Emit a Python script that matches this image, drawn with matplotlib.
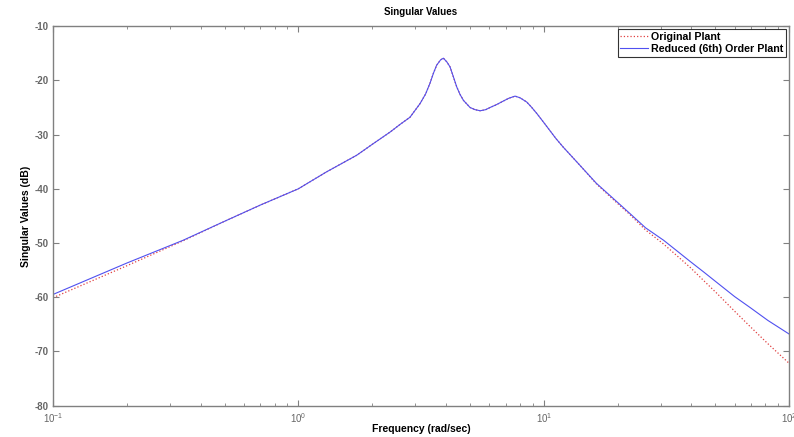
import numpy as np
import matplotlib
matplotlib.use("Agg")
import matplotlib.pyplot as plt
from matplotlib.ticker import LogLocator, NullFormatter

# values (rad/sec, dB)
freq = [0.1, 0.2, 0.339, 0.5, 0.7, 1.0, 1.116, 1.3, 1.73, 2.0, 2.37, 2.6,
        2.85, 3.13, 3.3, 3.44, 3.55, 3.66, 3.8, 3.9, 4.03, 4.15, 4.28, 4.42,
        4.56, 4.71, 5.01, 5.25, 5.51, 5.8, 6.04, 6.4, 6.85, 7.2, 7.64, 8.0,
        8.53, 8.9, 9.37, 9.9, 10.45, 11.2, 12.0, 14.0, 16.4, 19.0, 22.5,
        26.0, 30.8, 35.0, 39.5, 45.0, 50.8, 60.0, 69.3, 82.0, 100]
sv_reduced = [-59.5, -53.7, -49.5, -46.0, -43.0, -40.0, -38.7, -36.9, -33.8,
              -31.8, -29.5, -28.1, -26.8, -24.3, -22.5, -20.5, -18.7, -17.2,
              -16.2, -15.9, -16.6, -17.5, -19.3, -21.2, -22.6, -23.7, -25.0,
              -25.4, -25.6, -25.4, -25.0, -24.5, -23.8, -23.3, -22.9, -23.2,
              -24.0, -24.9, -26.1, -27.5, -28.9, -30.7, -32.3, -35.6, -39.0,
              -41.6, -44.6, -47.2, -49.5, -51.5, -53.4, -55.4, -57.3, -59.9,
              -61.9, -64.3, -66.8]
sv_orig = [-60.1, -54.2, -49.6, -46.0, -43.0, -40.0, -38.7, -36.9, -33.8,
           -31.8, -29.5, -28.1, -26.8, -24.3, -22.5, -20.5, -18.7, -17.2,
           -16.2, -15.9, -16.6, -17.5, -19.3, -21.2, -22.6, -23.7, -25.0,
           -25.4, -25.6, -25.4, -25.0, -24.5, -23.8, -23.3, -22.9, -23.2,
           -24.0, -24.9, -26.1, -27.5, -28.9, -30.7, -32.3, -35.6, -39.1,
           -41.8, -44.8, -47.6, -50.2, -52.4, -54.5, -57.0, -59.3, -62.6,
           -65.4, -68.6, -72.2]

yticks = [-80, -70, -60, -50, -40, -30, -20, -10]

plt.rcParams['font.family'] = ['Liberation Sans', 'DejaVu Sans']
plt.rcParams['axes.unicode_minus'] = False
plt.rcParams['mathtext.fontset'] = 'custom'
plt.rcParams['mathtext.rm'] = 'Liberation Sans:bold'
plt.rcParams['mathtext.it'] = 'Liberation Sans:bold'

fig = plt.figure(figsize=(7.94, 4.37), dpi=100)
ax = fig.add_axes([0.0668, 0.072, 0.927, 0.868])

ax.semilogx(freq, sv_orig, ':', color='#e04040', lw=0.9, label='Original Plant')
ax.semilogx(freq, sv_reduced, '-', color='#5050f0', lw=0.8,
            label='Reduced (6th) Order Plant')

ax.set_xlim(0.1, 100)
ax.set_ylim(-80, -10)
ax.set_yticks(yticks)
ax.xaxis.set_minor_locator(LogLocator(base=10, subs=np.arange(2, 10)))
ax.xaxis.set_minor_formatter(NullFormatter())

for s in ax.spines.values():
    s.set_color('#808080')
    s.set_linewidth(1.0)
ax.tick_params(which='both', direction='in', top=True, right=True,
               colors='#808080', labelcolor='#666666', labelsize=7)
ax.tick_params(which='major', length=4, pad=3)
ax.tick_params(axis='x', which='major', pad=4)
ax.tick_params(which='minor', length=2.5)
for lab in ax.get_yticklabels():
    lab.set_fontweight('bold')

ax.set_title('Singular Values', fontsize=7, fontweight='bold', pad=8)
ax.set_xlabel('Frequency (rad/sec)', fontsize=7.5, fontweight='bold', labelpad=-1)
ax.set_ylabel('Singular Values (dB)', fontsize=7.5, fontweight='bold', labelpad=3)

leg = ax.legend(loc='upper right', prop={'weight': 'bold', 'size': 7.7},
                frameon=True, fancybox=False, borderaxespad=0.25,
                handlelength=2.6, handletextpad=0.3, borderpad=0.25,
                labelspacing=0.25)
leg.get_frame().set_edgecolor('black')
leg.get_frame().set_linewidth(0.8)

fig.savefig('out.png', dpi=100)
